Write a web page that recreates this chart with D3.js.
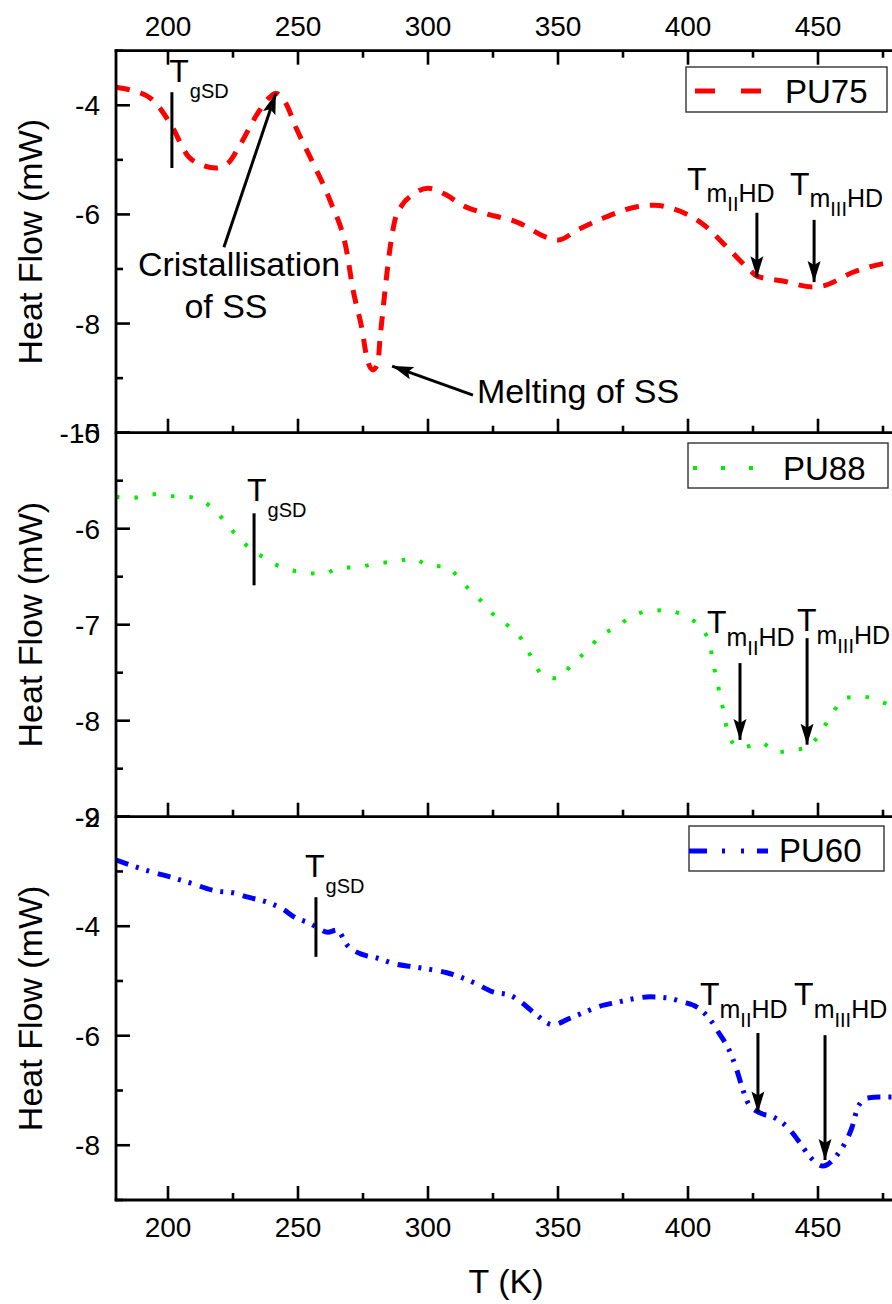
<!DOCTYPE html>
<html>
<head>
<meta charset="utf-8">
<script src="https://cdn.jsdelivr.net/npm/d3@7"></script>
<style>
  body { margin: 0; background: #fff; }
  text { font-family: "Liberation Sans", Arial, sans-serif; fill: #000; }
</style>
</head>
<body>
<div id="chart"></div>
<script>
// ---- data ----
const tempMajor = [200, 250, 300, 350, 400, 450];
const tempMinor = [225, 275, 325, 375, 425, 475];
const tempDomain = [180, 480];

// PU75
const tPU75 = [180, 185.4, 193.8, 201.2, 207.7, 212.3, 218.5, 223.1, 227.3, 234.6, 239.2, 241.5, 245, 249.6, 255.8, 262.7, 268.5, 271.2, 274.6, 276.5, 278.8, 280.8, 281.5, 282.3, 283.5, 285.4, 287.3, 290, 293.8, 300, 307.3, 313.1, 321.2, 334.2, 346.9, 350, 357.3, 367.3, 380.4, 387.3, 393.1, 405.8, 415, 423.8, 426.5, 436.5, 448.1, 451.9, 463.5, 476.5, 480];
const hfPU75 = [-3.67, -3.72, -3.89, -4.36, -4.93, -5.08, -5.15, -5.06, -4.76, -4.14, -3.85, -3.78, -3.94, -4.45, -5.06, -5.79, -6.62, -7.39, -8.10, -8.63, -8.85, -8.70, -8.30, -7.93, -7.38, -6.62, -6.10, -5.83, -5.65, -5.52, -5.65, -5.83, -5.97, -6.14, -6.44, -6.47, -6.29, -6.07, -5.86, -5.83, -5.88, -6.18, -6.60, -7.02, -7.13, -7.22, -7.33, -7.31, -7.06, -6.89, -6.87];

// PU88
const tPU88 = [180, 186.2, 193.8, 200.8, 208.1, 213.8, 218.8, 223.8, 228.8, 234.6, 240.4, 245.8, 253.5, 259.6, 265.8, 273.1, 280.8, 288.1, 294.2, 300, 307.3, 313.5, 320, 325, 330.8, 336.2, 340, 344.2, 350, 355.4, 361.2, 366.2, 371.9, 378.1, 384.2, 391.2, 398.1, 403.8, 408.1, 410, 411.9, 413.8, 415.8, 420.8, 428.1, 434.2, 439.2, 445.8, 450.8, 455.4, 460.4, 467.3, 473.1, 480];
const hfPU88 = [-5.67, -5.68, -5.64, -5.66, -5.67, -5.72, -5.83, -5.99, -6.14, -6.26, -6.36, -6.42, -6.46, -6.47, -6.41, -6.40, -6.36, -6.34, -6.31, -6.38, -6.40, -6.57, -6.74, -6.89, -7.01, -7.16, -7.35, -7.53, -7.56, -7.41, -7.27, -7.12, -7.03, -6.92, -6.86, -6.85, -6.90, -7.00, -7.18, -7.44, -7.68, -7.92, -8.18, -8.28, -8.23, -8.33, -8.31, -8.28, -8.13, -7.93, -7.76, -7.75, -7.79, -7.87];

// PU60
const tPU60 = [180, 186.5, 193.8, 200.8, 208.5, 218.8, 225, 230.8, 238.1, 244.2, 248.8, 254.6, 256.9, 261.5, 265, 268.8, 275, 280.4, 287.3, 294.2, 299.6, 307.3, 313.1, 318.1, 325, 331.5, 336.2, 341.2, 348.1, 354.6, 359.2, 366.2, 372.7, 378.5, 385.4, 392.3, 397.7, 403.5, 409.2, 411.9, 415.8, 418.8, 420.8, 423.1, 427.7, 432.7, 439.2, 443.1, 446.9, 451.9, 457.3, 460.4, 463.1, 465.4, 468.8, 473.8, 480];
const hfPU60 = [-2.79, -2.90, -3.01, -3.10, -3.21, -3.36, -3.39, -3.47, -3.56, -3.69, -3.84, -3.95, -4.01, -4.11, -4.07, -4.34, -4.52, -4.58, -4.69, -4.74, -4.78, -4.85, -4.94, -5.04, -5.20, -5.26, -5.40, -5.60, -5.80, -5.68, -5.59, -5.46, -5.39, -5.33, -5.29, -5.31, -5.38, -5.48, -5.75, -5.95, -6.26, -6.63, -6.94, -7.23, -7.41, -7.48, -7.72, -7.96, -8.21, -8.38, -8.18, -7.96, -7.67, -7.30, -7.14, -7.12, -7.12];

// y ranges and ticks for each panel
const yDomainPU75 = [-10, -3], yMajorPU75 = [-10, -8, -6, -4], yMinorPU75 = [-9, -7, -5, -3];
const yDomainPU88 = [-9, -5], yMajorPU88 = [-9, -8, -7, -6, -5], yMinorPU88 = [-8.5, -7.5, -6.5, -5.5];
const yDomainPU60 = [-9, -2], yMajorPU60 = [-8, -6, -4, -2], yMinorPU60 = [-9, -7, -5, -3];

// annotation positions, in K and mW
const tgsdT = [201.5, 233.1, 256.9];          // glass transition marker
const tgsdSpan = [[-5.15, -3.76], [-6.59, -5.84], [-4.56, -3.47]];
const tgsdLabel = [[200.5, -3.57], [230.4, -5.71], [252.7, -3.10]];
const tm2Arrow = [[426.5, -5.97, -7.15], [420, -7.40, -8.20], [426.9, -5.95, -7.40]];
const tm2Label = [[399.6, -5.55], [407.3, -7.09], [404.6, -5.44]];
const tm3Arrow = [[448.5, -6.10, -7.24], [445.8, -7.14, -8.25], [452.7, -5.99, -8.27]];
const tm3Label = [[439.2, -5.64], [441.9, -7.07], [440.8, -5.44]];
const ssArrows = [[221.5, -6.60, 241.5, -3.78], [317.3, -9.31, 286.2, -8.78]];

// ---- layout ----
const width = 892;
const height = 1304;
const plotLeft = 116;
const plotRight = 896;
const panelTops = [50.7, 432.7, 816.7];
const panelBottoms = [432.7, 816.7, 1200];

const svg = d3.select("#chart").append("svg")
    .attr("width", width)
    .attr("height", height)
    .style("display", "block");

svg.append("defs").append("marker")
    .attr("id", "head")
    .attr("viewBox", "0 -7 22 14")
    .attr("refX", 21)
    .attr("refY", 0)
    .attr("markerUnits", "userSpaceOnUse")
    .attr("markerWidth", 22)
    .attr("markerHeight", 14)
    .attr("orient", "auto")
    .append("path")
    .attr("d", "M0,-6.5L21,0L0,6.5L4,0Z")
    .attr("fill", "#000");

const xScale = d3.scaleLinear().domain(tempDomain).range([plotLeft, plotRight]);

const panels = [
    { name: "PU75", t: tPU75, hf: hfPU75, dom: yDomainPU75, major: yMajorPU75, minor: yMinorPU75,
      color: "#ff0000", dash: "14,11", width: 5 },
    { name: "PU88", t: tPU88, hf: hfPU88, dom: yDomainPU88, major: yMajorPU88, minor: yMinorPU88,
      color: "#00ee00", dash: "3.5,15", width: 4 },
    { name: "PU60", t: tPU60, hf: hfPU60, dom: yDomainPU60, major: yMajorPU60, minor: yMinorPU60,
      color: "#0000ff", dash: "13,8,3,8,3,9", width: 5 }
];

// legend boxes (pixel layout)
const legends = [
    { box: [686, 67, 201, 45], sample: [695, 761, 91], dash: "20,26", text: [785, 103] },
    { box: [688, 443, 200, 45], sample: [693, 755, 468], dash: "4,24", text: [783, 480] },
    { box: [689, 826, 195, 45], sample: [689, 768, 851], dash: "18,15,3,16,3,13", text: [779, 862] }
];

function tickLines(g, values, y0, len, dir) {
    g.selectAll(null).data(values).enter().append("line")
        .attr("x1", d => xScale(d)).attr("x2", d => xScale(d))
        .attr("y1", y0).attr("y2", y0 + dir * len)
        .attr("stroke", "#000").attr("stroke-width", 2.6);
}

panels.forEach(function (p, i) {
    const yTop = panelTops[i];
    const yBottom = panelBottoms[i];
    const yScale = d3.scaleLinear().domain(p.dom).range([yBottom, yTop]);
    const g = svg.append("g").attr("class", "panel");

    // y ticks (inward)
    g.selectAll(null).data(p.major).enter().append("line")
        .attr("x1", plotLeft).attr("x2", plotLeft + 14)
        .attr("y1", d => yScale(d)).attr("y2", d => yScale(d))
        .attr("stroke", "#000").attr("stroke-width", 2.6);
    g.selectAll(null).data(p.minor).enter().append("line")
        .attr("x1", plotLeft).attr("x2", plotLeft + 7)
        .attr("y1", d => yScale(d)).attr("y2", d => yScale(d))
        .attr("stroke", "#000").attr("stroke-width", 2.6);
    g.selectAll(null).data(p.major).enter().append("text")
        .attr("x", 100)
        .attr("y", d => yScale(d))
        .attr("dy", "0.36em")
        .attr("text-anchor", "end")
        .style("font-size", "28px")
        .text(d => d);

    // x ticks on bottom edge, pointing up into the panel
    tickLines(g, tempMajor, yBottom, 14, -1);
    tickLines(g, tempMinor, yBottom, 7, -1);
    if (i == 0) {
        tickLines(g, tempMajor, yTop, 14, 1);
        tickLines(g, tempMinor, yTop, 7, 1);
        g.append("line").attr("x1", plotLeft - 1.3).attr("x2", plotRight)
            .attr("y1", yTop).attr("y2", yTop)
            .attr("stroke", "#000").attr("stroke-width", 2.8);
        g.selectAll(null).data(tempMajor).enter().append("text")
            .attr("x", d => xScale(d)).attr("y", 36)
            .attr("text-anchor", "middle").style("font-size", "28px")
            .text(d => d);
    }
    g.append("line").attr("x1", plotLeft - 1.3).attr("x2", plotRight)
        .attr("y1", yBottom).attr("y2", yBottom)
        .attr("stroke", "#000").attr("stroke-width", 2.8);

    // y title
    g.append("text")
        .attr("transform", `translate(42, ${(yTop + yBottom) / 2}) rotate(-90)`)
        .attr("text-anchor", "middle")
        .style("font-size", "34px")
        .text("Heat Flow (mW)");

    // curve
    const line = d3.line()
        .x(d => xScale(d[0]))
        .y(d => yScale(d[1]))
        .curve(d3.curveMonotoneX);
    g.append("path")
        .attr("d", line(d3.zip(p.t, p.hf)))
        .attr("fill", "none")
        .attr("stroke", p.color)
        .attr("stroke-width", p.width)
        .attr("stroke-dasharray", p.dash);

    // legend
    const lg = legends[i];
    g.append("rect")
        .attr("x", lg.box[0]).attr("y", lg.box[1])
        .attr("width", lg.box[2]).attr("height", lg.box[3])
        .attr("fill", "#fff").attr("stroke", "#333").attr("stroke-width", 1.4);
    g.append("line")
        .attr("x1", lg.sample[0]).attr("x2", lg.sample[1])
        .attr("y1", lg.sample[2]).attr("y2", lg.sample[2])
        .attr("stroke", p.color).attr("stroke-width", p.width)
        .attr("stroke-dasharray", lg.dash);
    g.append("text")
        .attr("x", lg.text[0]).attr("y", lg.text[1])
        .style("font-size", "33px")
        .text(p.name);

    // T_gSD marker
    g.append("line")
        .attr("x1", xScale(tgsdT[i])).attr("x2", xScale(tgsdT[i]))
        .attr("y1", yScale(tgsdSpan[i][0])).attr("y2", yScale(tgsdSpan[i][1]))
        .attr("stroke", "#000").attr("stroke-width", 3);
    const tg = g.append("text")
        .attr("x", xScale(tgsdLabel[i][0]))
        .attr("y", yScale(tgsdLabel[i][1]));
    tg.append("tspan").style("font-size", "32px").text("T");
    tg.append("tspan").attr("dy", 16.5).attr("dx", 1).style("font-size", "20px").text("gSD");

    // melting peak labels and arrows
    [[tm2Label, tm2Arrow, "II"], [tm3Label, tm3Arrow, "III"]].forEach(function (a) {
        const lab = a[0][i];
        const arr = a[1][i];
        const t = g.append("text")
            .attr("x", xScale(lab[0]))
            .attr("y", yScale(lab[1]));
        t.append("tspan").style("font-size", "32px").text("T");
        t.append("tspan").attr("dy", 12.5).style("font-size", "25px").text("m");
        t.append("tspan").attr("dy", 9).style("font-size", "20px").text(a[2]);
        t.append("tspan").attr("dy", -9).style("font-size", "25px").text("HD");
        g.append("line")
            .attr("x1", xScale(arr[0])).attr("x2", xScale(arr[0]))
            .attr("y1", yScale(arr[1])).attr("y2", yScale(arr[2]))
            .attr("stroke", "#000").attr("stroke-width", 3)
            .attr("marker-end", "url(#head)");
    });

    if (i == 0) {
        // crystallisation / melting of soft segment
        ssArrows.forEach(function (a) {
            g.append("line")
                .attr("x1", xScale(a[0])).attr("y1", yScale(a[1]))
                .attr("x2", xScale(a[2])).attr("y2", yScale(a[3]))
                .attr("stroke", "#000").attr("stroke-width", 3)
                .attr("marker-end", "url(#head)");
        });
        g.append("text").attr("x", xScale(227.3)).attr("y", yScale(-7.13))
            .attr("text-anchor", "middle").style("font-size", "34px")
            .text("Cristallisation");
        g.append("text").attr("x", xScale(222.3)).attr("y", yScale(-7.90))
            .attr("text-anchor", "middle").style("font-size", "34px")
            .text("of SS");
        g.append("text").attr("x", xScale(318.8)).attr("y", yScale(-9.46))
            .style("font-size", "34px")
            .text("Melting of SS");
    }
});

// left axis over the full height
svg.append("line")
    .attr("x1", plotLeft).attr("x2", plotLeft)
    .attr("y1", panelTops[0] - 1.3).attr("y2", panelBottoms[2] + 1.3)
    .attr("stroke", "#000").attr("stroke-width", 2.8);

// bottom tick labels and x title
svg.selectAll(".xlab").data(tempMajor).enter().append("text")
    .attr("class", "xlab")
    .attr("x", d => xScale(d)).attr("y", 1237)
    .attr("text-anchor", "middle").style("font-size", "28px")
    .text(d => d);

svg.append("text")
    .attr("x", (plotLeft + plotRight) / 2).attr("y", 1293)
    .attr("text-anchor", "middle").style("font-size", "34px")
    .text("T (K)");
</script>
</body>
</html>
